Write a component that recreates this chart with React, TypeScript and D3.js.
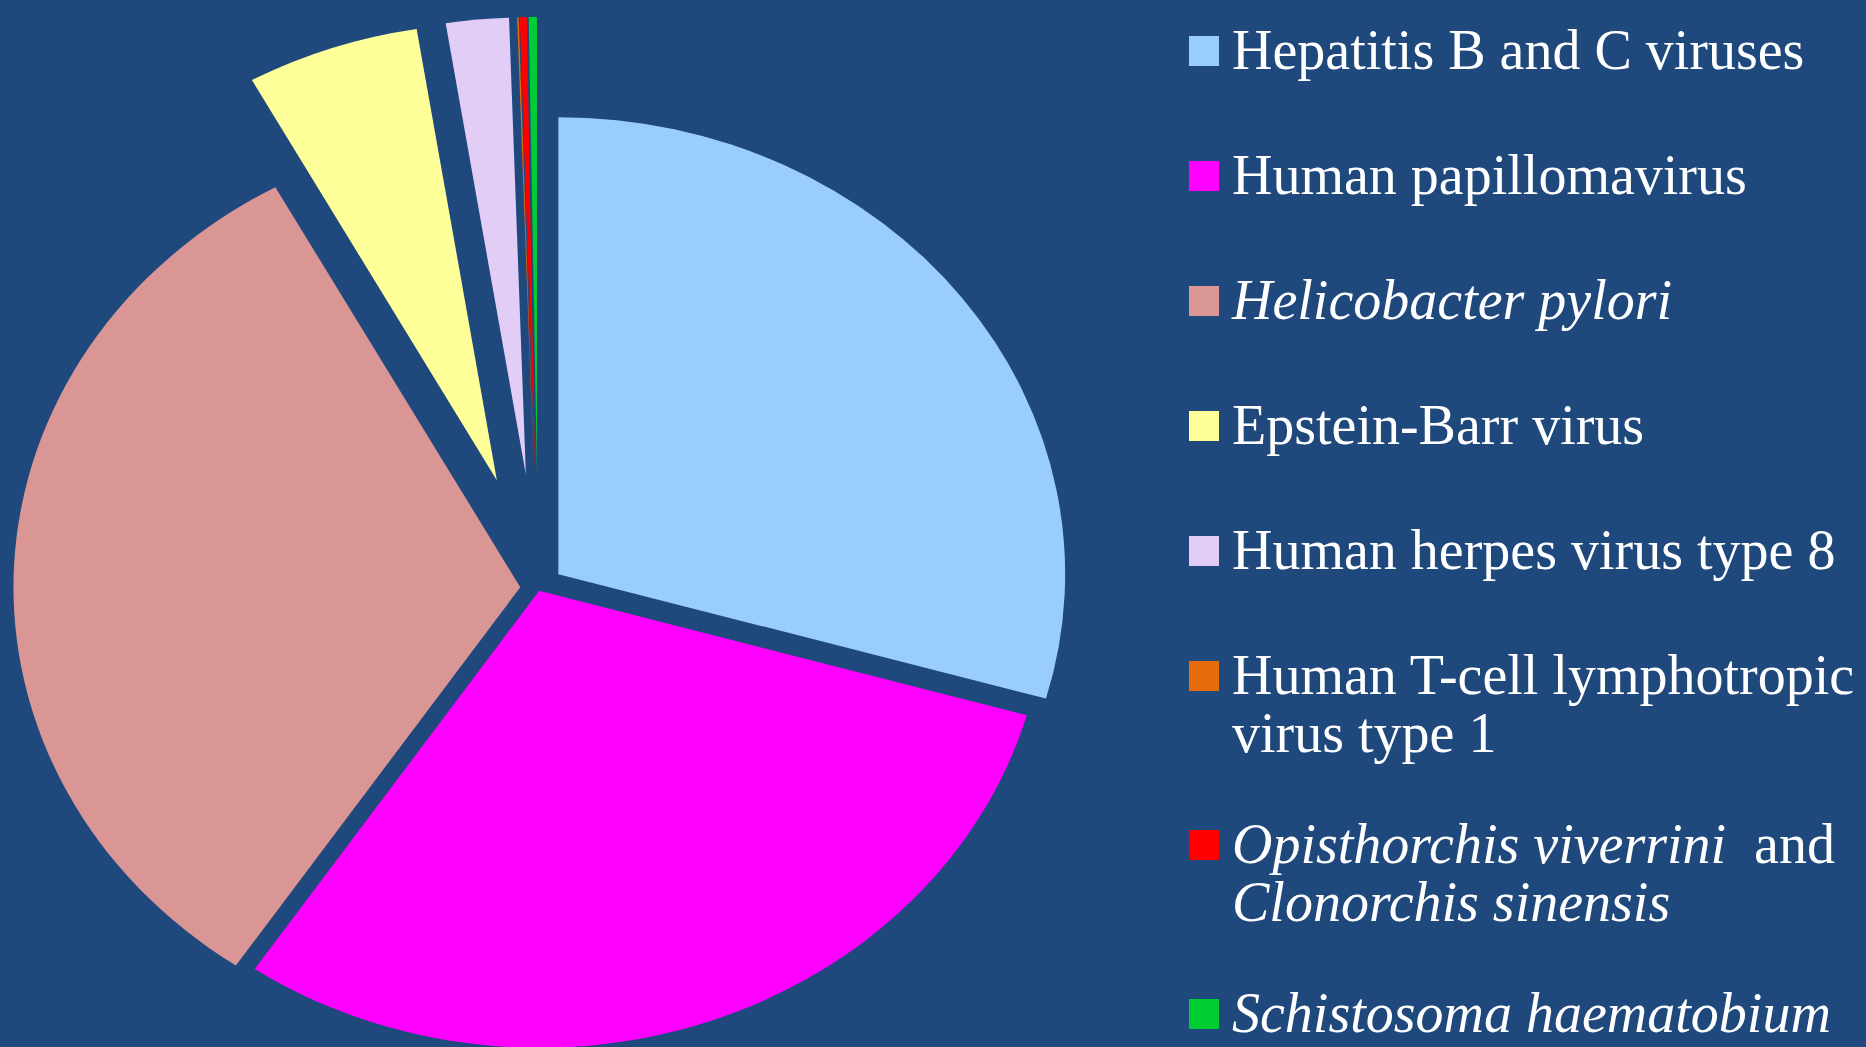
import * as React from "react";
import * as d3 from "d3";
import { useEffect, useRef } from "react";

// share of infection-attributable cancers (%)
const agents = [
  "Hepatitis B and C viruses",
  "Human papillomavirus",
  "Helicobacter pylori",
  "Epstein-Barr virus",
  "Human herpes virus type 8",
  "Human T-cell lymphotropic virus type 1",
  "Opisthorchis viverrini and Clonorchis sinensis",
  "Schistosoma haematobium",
];
const shares = [29.4, 30.1, 32.5, 5.5, 2.0, 0.05, 0.22, 0.26];
const colors = [
  "#99CCFF",
  "#FF00FF",
  "#DA9694",
  "#FFFF99",
  "#E2CDF7",
  "#E46C0A",
  "#FF0000",
  "#00CC33",
];

// legend lines: [text, italic]
const legendLines: [string, boolean][][][] = [
  [[["Hepatitis B and C viruses", false]]],
  [[["Human papillomavirus", false]]],
  [[["Helicobacter pylori", true]]],
  [[["Epstein-Barr virus", false]]],
  [[["Human herpes virus type 8", false]]],
  [[["Human T-cell lymphotropic", false]], [["virus type 1", false]]],
  [
    [
      ["Opisthorchis viverrini", true],
      ["  and", false],
    ],
    [["Clonorchis sinensis", true]],
  ],
  [[["Schistosoma haematobium", true]]],
];

// how far each slice is pulled out of the pie
const explode = [23, 3, 16, 114, 114, 114, 114, 114];

const W = 1866;
const H = 1047;
const BG = "#1F487C";

function drawChart(svgRef: React.RefObject<SVGSVGElement>) {
  const svg = d3.select(svgRef.current);
  svg.selectAll("*").remove();

  svg.append("rect").attr("width", W).attr("height", H).attr("fill", BG);

  const radius = 457;
  const stretch = 1.109;

  const pie = d3
    .pie<number>()
    .sort(null)
    .value((d) => d)
    .startAngle(0)
    .endAngle(2 * Math.PI);

  const arc = d3.arc<d3.PieArcDatum<number>>().innerRadius(0).outerRadius(radius);

  const g = svg
    .append("g")
    .attr("transform", `translate(538, 588) scale(${stretch}, 1)`);

  g.selectAll("path")
    .data(pie(shares))
    .enter()
    .append("path")
    .attr("transform", (d, i) => {
      const mid = (d.startAngle + d.endAngle) / 2;
      const dx = Math.sin(mid) * explode[i];
      const dy = -Math.cos(mid) * explode[i];
      return `translate(${dx}, ${dy})`;
    })
    .attr("d", arc)
    .attr("fill", (d, i) => colors[i]);

  // legend
  const rowY = d3
    .scaleLinear()
    .domain([0, 1])
    .range([51, 176]);
  const lineGap = 58;
  const extraGap = 44;

  const legend = svg
    .append("g")
    .attr("font-family", '"Liberation Serif", "Times New Roman", serif')
    .attr("font-size", 56)
    .attr("fill", "#FFFFFF");

  let extra = 0;
  legendLines.forEach((lines, i) => {
    const cy = rowY(i) + extra * extraGap;
    legend
      .append("rect")
      .attr("x", 1189)
      .attr("y", cy - 15)
      .attr("width", 30)
      .attr("height", 30)
      .attr("fill", colors[i]);

    lines.forEach((segs, j) => {
      const t = legend
        .append("text")
        .attr("x", 1232)
        .attr("y", cy + 18 + j * lineGap)
        .attr("xml:space", "preserve");
      segs.forEach(([txt, it]) => {
        t.append("tspan")
          .attr("font-style", it ? "italic" : "normal")
          .text(txt);
      });
    });
    extra += lines.length - 1;
  });
}

export default function App() {
  const svg = useRef<SVGSVGElement>(null);
  useEffect(() => {
    drawChart(svg);
  }, []);
  return (
    <svg
      ref={svg}
      width={W}
      height={H}
      style={{ position: "absolute", left: 0, top: 0, display: "block" }}
    />
  );
}
